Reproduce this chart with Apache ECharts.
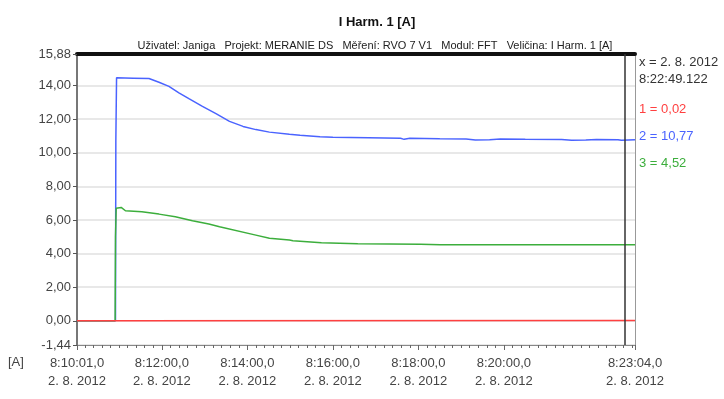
<!DOCTYPE html>
<html><head><meta charset="utf-8">
<script src="https://cdn.jsdelivr.net/npm/echarts@6/dist/echarts.min.js"></script>
<style>html,body{margin:0;padding:0;background:#fff}#c{width:724px;height:399px}</style>
</head><body><div id="c"></div>
<script>
// ---- data (time of day, value in A) ----
const redTimes = ["8:10:01","8:10:55","8:10:56","8:23:04"];
const redValues = [0.00, 0.00, 0.02, 0.02];

const blueTimes = ["8:10:01","8:10:55","8:10:55.5","8:10:56.5","8:11:20","8:11:42","8:11:56","8:12:10","8:12:24","8:12:38","8:12:57","8:13:16","8:13:35","8:13:54","8:14:12","8:14:31","8:14:59","8:15:14","8:15:42","8:16:00","8:16:50","8:17:35","8:17:40","8:17:48","8:18:30","8:19:07","8:19:20","8:19:40","8:19:55","8:20:30","8:21:21","8:21:35","8:21:55","8:22:10","8:22:40","8:22:45","8:23:04"];
const blueValues = [0.00, 0.00, 10.70, 14.46, 14.44, 14.42, 14.20, 13.95, 13.57, 13.22, 12.76, 12.33, 11.87, 11.57, 11.38, 11.23, 11.10, 11.04, 10.96, 10.92, 10.90, 10.86, 10.80, 10.86, 10.83, 10.82, 10.76, 10.78, 10.82, 10.80, 10.79, 10.75, 10.76, 10.79, 10.78, 10.74, 10.77];

const greenTimes = ["8:10:01","8:10:54.5","8:10:55","8:10:56","8:10:58","8:11:03","8:11:09","8:11:32","8:11:56","8:12:19","8:12:43","8:13:06","8:13:21","8:14:12","8:14:31","8:14:59","8:15:04","8:15:44","8:16:35","8:18:03","8:18:31","8:20:05","8:20:07","8:20:09","8:23:04"];
const greenValues = [0.00, 0.00, 5.00, 6.70, 6.75, 6.75, 6.55, 6.49, 6.35, 6.19, 5.95, 5.76, 5.60, 5.10, 4.91, 4.81, 4.77, 4.65, 4.59, 4.55, 4.53, 4.53, 4.60, 4.52, 4.52];

const xMinTime = "8:10:01";
const xMaxTime = "8:23:04";
const xLabelTimes = ["8:10:01","8:12:00","8:14:00","8:16:00","8:18:00","8:20:00","8:23:04"];
const cursorTime = "8:22:49.122";
const yTickValues = [-1.44, 0, 2, 4, 6, 8, 10, 12, 14, 15.88];
const dateLabel = "2. 8. 2012";
const title = "I Harm. 1 [A]";
const subtitle = "Uživatel: Janiga   Projekt: MERANIE DS   Měření: RVO 7 V1   Modul: FFT   Veličina: I Harm. 1 [A]";
const legendLines = [
  {text: "x = 2. 8. 2012", color: "#333"},
  {text: "8:22:49.122", color: "#333"},
  {text: "1 = 0,02", color: "#ff4040"},
  {text: "2 = 10,77", color: "#4a63ff"},
  {text: "3 = 4,52", color: "#3cae3c"}
];

function toSec(s){const p=s.split(':');return (+p[0])*3600+(+p[1])*60+parseFloat(p[2]);}
function fmtTime(v){
  const s=Math.round(v*10)/10;
  const h=Math.floor(s/3600), m=Math.floor((s-h*3600)/60), sec=s-h*3600-m*60;
  const ss=Math.floor(sec), frac=Math.round((sec-ss)*10);
  return h+':'+String(m).padStart(2,'0')+':'+String(ss).padStart(2,'0')+','+frac;
}
const pairs=(t,v)=>t.map((x,i)=>[toSec(x),v[i]]);
const xMin=toSec(xMinTime), xMax=toSec(xMaxTime);
const minorTicks=[xMin];
for(let v=Math.ceil(xMin/12)*12; v<xMax; v+=12) minorTicks.push(v);
minorTicks.push(xMax);
const majorTicks=xLabelTimes.map(toSec);

const FONT='Liberation Sans';
const chart=echarts.init(document.getElementById('c'),null,{renderer:'canvas'});
const lineCommon={type:'line',showSymbol:false,symbol:'none',animation:false,xAxisIndex:0,yAxisIndex:0};
chart.setOption({
  animation:false,
  backgroundColor:'#fff',
  textStyle:{fontFamily:FONT},
  title:[
    {text:title,left:372,textAlign:'center',top:11,textStyle:{fontFamily:FONT,fontSize:13,fontWeight:'bold',color:'#111'}},
    {text:subtitle,left:370,textAlign:'center',top:35,textStyle:{fontFamily:FONT,fontSize:11,fontWeight:'normal',color:'#222'}}
  ],
  grid:{left:77,right:89,top:54,bottom:54,containLabel:false},
  xAxis:[
    {type:'value',min:xMin,max:xMax,position:'bottom',
     axisLine:{show:true,onZero:false,lineStyle:{color:'#888',width:1}},
     axisTick:{show:true,customValues:minorTicks,length:3,lineStyle:{color:'#666'}},
     axisLabel:{show:true,customValues:majorTicks,margin:9,color:'#444',fontSize:13,fontFamily:FONT,lineHeight:18,
       formatter:v=>fmtTime(v)+'\n'+dateLabel},
     splitLine:{show:false}},
    {type:'value',min:xMin,max:xMax,position:'top',
     axisLine:{show:true,onZero:false,lineStyle:{color:'#111',width:4}},
     axisTick:{show:false},axisLabel:{show:false},splitLine:{show:false}},
    {type:'value',min:xMin,max:xMax,position:'bottom',
     axisLine:{show:false,onZero:false},
     axisTick:{show:true,customValues:majorTicks,length:5,lineStyle:{color:'#666'}},
     axisLabel:{show:false},splitLine:{show:false}}
  ],
  yAxis:[
    {type:'value',min:-1.44,max:15.88,position:'left',
     axisLine:{show:true,onZero:false,lineStyle:{color:'#777',width:2}},
     axisTick:{show:true,customValues:yTickValues,length:4,lineStyle:{color:'#555'}},
     axisLabel:{show:true,customValues:yTickValues,margin:6,color:'#444',fontSize:13,fontFamily:FONT,
       formatter:v=>v.toFixed(2).replace('.',',')},
     splitLine:{show:true,lineStyle:{color:'#e8e8e8',width:2}}},
    {type:'value',min:-1.44,max:15.88,position:'right',
     axisLine:{show:true,onZero:false,lineStyle:{color:'#999',width:1}},
     axisTick:{show:false},axisLabel:{show:false},splitLine:{show:false}}
  ],
  series:[
    Object.assign({},lineCommon,{name:'2',data:pairs(blueTimes,blueValues),lineStyle:{color:'#4a63ff',width:1.5}}),
    Object.assign({},lineCommon,{name:'3',data:pairs(greenTimes,greenValues),lineStyle:{color:'#3cae3c',width:1.5}}),
    Object.assign({},lineCommon,{name:'1',data:pairs(redTimes,redValues),lineStyle:{color:'#ff4040',width:1.5},
      markLine:{silent:true,symbol:'none',label:{show:false},animation:false,
        lineStyle:{color:'#333',width:1.5,type:'solid'},
        data:[{xAxis:toSec(cursorTime)}]}})
  ],
  graphic:[
    {type:'text',left:8,top:356,style:{text:'[A]',fill:'#444',font:'13px "'+FONT+'"'}}
  ].concat(legendLines.map((l,i)=>({
    type:'text',left:639,top:[56,73,103,130,157][i],
    style:{text:l.text,fill:l.color,font:'13px "'+FONT+'"'}
  })))
});
</script></body></html>
